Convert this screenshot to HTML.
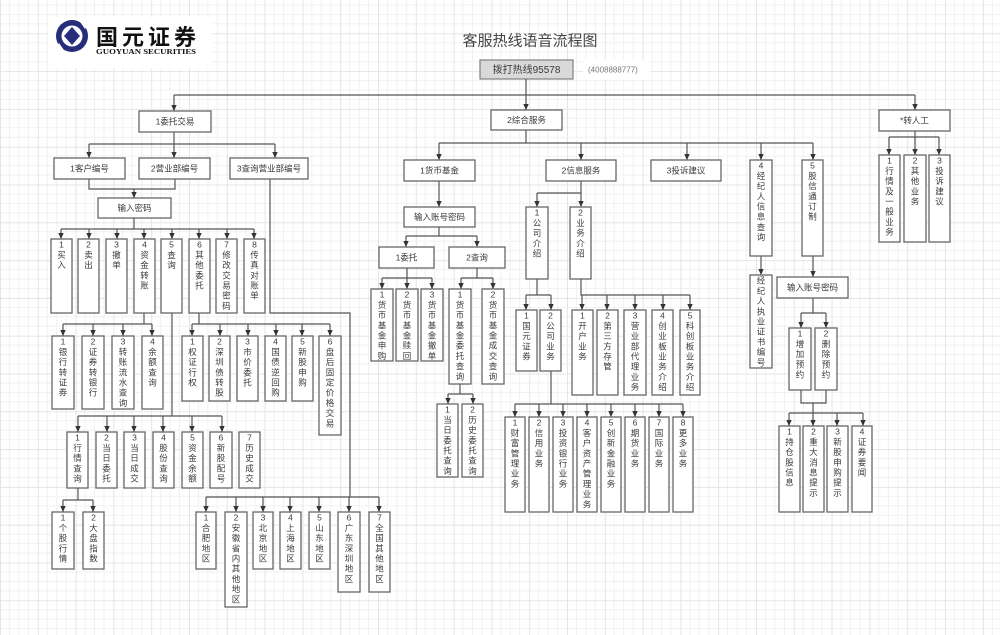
<!DOCTYPE html>
<html>
<head>
<meta charset="utf-8">
<style>
html,body{margin:0;padding:0;background:#fff;}
svg{display:block;}
.b{fill:#fff;stroke:#666;stroke-width:1.3;}
.l{fill:none;stroke:#555;stroke-width:1.2;}
.t{font-family:"Liberation Sans","Noto Sans CJK SC",sans-serif;font-size:8.5px;fill:#3a3a3a;text-anchor:middle;}
</style>
</head>
<body>
<svg width="1000" height="635" viewBox="0 0 1000 635" xmlns="http://www.w3.org/2000/svg">
<defs>
<pattern id="g" width="37.8" height="37.8" patternUnits="userSpaceOnUse" x="0" y="-4.5">
<path d="M9.45,0V37.8M18.9,0V37.8M28.35,0V37.8M0,9.45H37.8M0,18.9H37.8M0,28.35H37.8" stroke="#f1f1f1" stroke-width="1" fill="none"/>
<path d="M0.5,0V37.8M0,0.5H37.8" stroke="#e5e5e5" stroke-width="1" fill="none"/>
</pattern>
<marker id="a" viewBox="0 0 6 6" refX="6" refY="3" markerWidth="6" markerHeight="6" markerUnits="userSpaceOnUse" orient="auto">
<path d="M0,0.3 L6,3 L0,5.7 z" fill="#333"/>
</marker>
</defs>
<rect x="0" y="0" width="1000" height="635" fill="#fff"/>
<rect x="0" y="0" width="1000" height="635" fill="url(#g)"/>

<!-- logo -->
<rect x="49" y="17" width="163" height="51" fill="#fff"/>
<circle cx="72" cy="36" r="16" fill="#272d7a"/>
<circle cx="72" cy="36" r="10.5" fill="#fff"/>
<path d="M72,27 L80,36 L72,45 L64,36 z" fill="#272d7a"/>
<path d="M78,19 L90,21 L85,29 z" fill="#fff"/>
<path d="M66,53 L54,51 L59,43 z" fill="#fff"/>
<text x="96" y="45" font-family="Liberation Sans,'Noto Sans CJK SC',sans-serif" font-size="22" font-weight="bold" fill="#111" textLength="100" lengthAdjust="spacing">国元证券</text>
<text x="96" y="54" font-family="Liberation Serif,serif" font-size="7.5" font-weight="bold" fill="#111" textLength="100" lengthAdjust="spacingAndGlyphs">GUOYUAN SECURITIES</text>

<!-- title -->
<text x="530" y="45.5" font-family="Liberation Sans,'Noto Sans CJK SC',sans-serif" font-size="15" fill="#444" text-anchor="middle">客服热线语音流程图</text>

<!-- hotline -->
<rect x="480" y="60" width="93" height="19" fill="#d9d9d9" stroke="#888" stroke-width="1.3"/>
<text class="t" x="526.5" y="73" style="font-size:10px">拨打热线95578</text>
<rect x="583" y="60" width="67" height="20" fill="#fff"/>
<text x="588" y="72.5" font-family="Liberation Sans,sans-serif" font-size="8" fill="#777">(4008888777)</text>

<!-- connectors -->
<g class="l">
<path d="M526,79V110" marker-end="url(#a)"/>
<path d="M174,95H915"/>
<path d="M174,95V111" marker-end="url(#a)"/>
<path d="M915,95V110" marker-end="url(#a)"/>
<path d="M174,132V144M89,144H275"/>
<path d="M89,144V158" marker-end="url(#a)"/>
<path d="M174,144V158" marker-end="url(#a)"/>
<path d="M275,144V158" marker-end="url(#a)"/>
<path d="M89,179V189H175V179"/>
<path d="M134,189V198" marker-end="url(#a)"/>
<path d="M134,218V229M61,229H254"/>
<path d="M61,229V239" marker-end="url(#a)"/>
<path d="M89,229V239" marker-end="url(#a)"/>
<path d="M117,229V239" marker-end="url(#a)"/>
<path d="M144,229V239" marker-end="url(#a)"/>
<path d="M172,229V239" marker-end="url(#a)"/>
<path d="M199,229V239" marker-end="url(#a)"/>
<path d="M227,229V239" marker-end="url(#a)"/>
<path d="M254,229V239" marker-end="url(#a)"/>
<path d="M144,313V324M63,324H152"/>
<path d="M63,324V336" marker-end="url(#a)"/>
<path d="M93,324V336" marker-end="url(#a)"/>
<path d="M123,324V336" marker-end="url(#a)"/>
<path d="M152,324V336" marker-end="url(#a)"/>
<path d="M172,313V416M78,416H222"/>
<path d="M78,416V432" marker-end="url(#a)"/>
<path d="M107,416V432" marker-end="url(#a)"/>
<path d="M134,416V432" marker-end="url(#a)"/>
<path d="M163,416V432" marker-end="url(#a)"/>
<path d="M192,416V432" marker-end="url(#a)"/>
<path d="M222,416V432" marker-end="url(#a)"/>
<path d="M199,313V324M192,324H330"/>
<path d="M192,324V336" marker-end="url(#a)"/>
<path d="M220,324V336" marker-end="url(#a)"/>
<path d="M248,324V336" marker-end="url(#a)"/>
<path d="M276,324V336" marker-end="url(#a)"/>
<path d="M302,324V336" marker-end="url(#a)"/>
<path d="M330,324V336" marker-end="url(#a)"/>
<path d="M270,179V313H350V497M206,497H379"/>
<path d="M206,497V512" marker-end="url(#a)"/>
<path d="M236,497V512" marker-end="url(#a)"/>
<path d="M263,497V512" marker-end="url(#a)"/>
<path d="M290,497V512" marker-end="url(#a)"/>
<path d="M319,497V512" marker-end="url(#a)"/>
<path d="M349,497V512" marker-end="url(#a)"/>
<path d="M379,497V512" marker-end="url(#a)"/>
<path d="M78,488V500M63,500H93"/>
<path d="M63,500V512" marker-end="url(#a)"/>
<path d="M93,500V512" marker-end="url(#a)"/>

<path d="M526,130V143M439,143H813"/>
<path d="M439,143V160" marker-end="url(#a)"/>
<path d="M581,143V160" marker-end="url(#a)"/>
<path d="M687,143V160" marker-end="url(#a)"/>
<path d="M761,143V160" marker-end="url(#a)"/>
<path d="M813,143V160" marker-end="url(#a)"/>
<path d="M439,181V207" marker-end="url(#a)"/>
<path d="M439,227V236M406,236H477"/>
<path d="M406,236V247" marker-end="url(#a)"/>
<path d="M477,236V247" marker-end="url(#a)"/>
<path d="M407,268V278M382,278H432"/>
<path d="M382,278V289" marker-end="url(#a)"/>
<path d="M407,278V289" marker-end="url(#a)"/>
<path d="M432,278V289" marker-end="url(#a)"/>
<path d="M477,268V278M461,278H493"/>
<path d="M461,278V289" marker-end="url(#a)"/>
<path d="M493,278V289" marker-end="url(#a)"/>
<path d="M460,384V394M448,394H473"/>
<path d="M448,394V404" marker-end="url(#a)"/>
<path d="M473,394V404" marker-end="url(#a)"/>
<path d="M581,181V193H537"/>
<path d="M537,193V207" marker-end="url(#a)"/>
<path d="M581,193V207" marker-end="url(#a)"/>
<path d="M537,279V295M526,295H551"/>
<path d="M526,295V310" marker-end="url(#a)"/>
<path d="M551,295V310" marker-end="url(#a)"/>
<path d="M581,279V295H690"/>
<path d="M582,295V310" marker-end="url(#a)"/>
<path d="M607,295V310" marker-end="url(#a)"/>
<path d="M635,295V310" marker-end="url(#a)"/>
<path d="M663,295V310" marker-end="url(#a)"/>
<path d="M690,295V310" marker-end="url(#a)"/>
<path d="M551,371V404M515,404H683"/>
<path d="M515,404V417" marker-end="url(#a)"/>
<path d="M539,404V417" marker-end="url(#a)"/>
<path d="M563,404V417" marker-end="url(#a)"/>
<path d="M587,404V417" marker-end="url(#a)"/>
<path d="M611,404V417" marker-end="url(#a)"/>
<path d="M635,404V417" marker-end="url(#a)"/>
<path d="M659,404V417" marker-end="url(#a)"/>
<path d="M683,404V417" marker-end="url(#a)"/>

<path d="M915,131V137M889,137H939"/>
<path d="M889,137V155" marker-end="url(#a)"/>
<path d="M915,137V155" marker-end="url(#a)"/>
<path d="M939,137V155" marker-end="url(#a)"/>
<path d="M761,256V275" marker-end="url(#a)"/>
<path d="M813,256V277" marker-end="url(#a)"/>
<path d="M813,298V313M801,313H826"/>
<path d="M801,313V328" marker-end="url(#a)"/>
<path d="M826,313V328" marker-end="url(#a)"/>
<path d="M801,390V403H826V390"/>
<path d="M813,403V426" marker-end="url(#a)"/>
<path d="M789,413H863"/>
<path d="M789,413V426" marker-end="url(#a)"/>
<path d="M837,413V426" marker-end="url(#a)"/>
<path d="M863,413V426" marker-end="url(#a)"/>
</g>

<!-- horizontal boxes -->
<rect class="b" x="139" y="111" width="72" height="21"/><text class="t" x="175" y="124.5">1委托交易</text>
<rect class="b" x="491" y="110" width="71" height="20"/><text class="t" x="526.5" y="123">2综合服务</text>
<rect class="b" x="879" y="110" width="71" height="21"/><text class="t" x="914.5" y="123.5">*转人工</text>
<rect class="b" x="54" y="158" width="71" height="21"/><text class="t" x="89.5" y="171.5">1客户编号</text>
<rect class="b" x="139" y="158" width="71" height="21"/><text class="t" x="174.5" y="171.5">2营业部编号</text>
<rect class="b" x="230" y="158" width="78" height="21"/><text class="t" x="269" y="171.5">3查询营业部编号</text>
<rect class="b" x="98" y="198" width="73" height="20"/><text class="t" x="134.5" y="211">输入密码</text>
<rect class="b" x="404" y="160" width="71" height="21"/><text class="t" x="439.5" y="173.5">1货币基金</text>
<rect class="b" x="546" y="160" width="70" height="21"/><text class="t" x="581" y="173.5">2信息服务</text>
<rect class="b" x="651" y="160" width="70" height="21"/><text class="t" x="686" y="173.5">3投诉建议</text>
<rect class="b" x="404" y="207" width="71" height="20"/><text class="t" x="439.5" y="220">输入账号密码</text>
<rect class="b" x="379" y="247" width="55" height="21"/><text class="t" x="406.5" y="260.5">1委托</text>
<rect class="b" x="449" y="247" width="56" height="21"/><text class="t" x="477" y="260.5">2查询</text>
<rect class="b" x="777" y="277" width="71" height="21"/><text class="t" x="812.5" y="290.5">输入账号密码</text>

<!-- Row A -->
<rect class="b" x="51" y="239" width="21" height="74"/>
<text class="t" x="61.5" y="247.7"><tspan x="61.5">1</tspan><tspan x="61.5" dy="10.2">买</tspan><tspan x="61.5" dy="10.2">入</tspan></text>
<rect class="b" x="78" y="239" width="21" height="74"/>
<text class="t" x="88.5" y="247.7"><tspan x="88.5">2</tspan><tspan x="88.5" dy="10.2">卖</tspan><tspan x="88.5" dy="10.2">出</tspan></text>
<rect class="b" x="106" y="239" width="21" height="74"/>
<text class="t" x="116.5" y="247.7"><tspan x="116.5">3</tspan><tspan x="116.5" dy="10.2">撤</tspan><tspan x="116.5" dy="10.2">单</tspan></text>
<rect class="b" x="134" y="239" width="21" height="74"/>
<text class="t" x="144.5" y="247.7"><tspan x="144.5">4</tspan><tspan x="144.5" dy="10.2">资</tspan><tspan x="144.5" dy="10.2">金</tspan><tspan x="144.5" dy="10.2">转</tspan><tspan x="144.5" dy="10.2">账</tspan></text>
<rect class="b" x="161" y="239" width="21" height="74"/>
<text class="t" x="171.5" y="247.7"><tspan x="171.5">5</tspan><tspan x="171.5" dy="10.2">查</tspan><tspan x="171.5" dy="10.2">询</tspan></text>
<rect class="b" x="189" y="239" width="21" height="74"/>
<text class="t" x="199.5" y="247.7"><tspan x="199.5">6</tspan><tspan x="199.5" dy="10.2">其</tspan><tspan x="199.5" dy="10.2">他</tspan><tspan x="199.5" dy="10.2">委</tspan><tspan x="199.5" dy="10.2">托</tspan></text>
<rect class="b" x="216" y="239" width="21" height="74"/>
<text class="t" x="226.5" y="247.7"><tspan x="226.5">7</tspan><tspan x="226.5" dy="10.2">修</tspan><tspan x="226.5" dy="10.2">改</tspan><tspan x="226.5" dy="10.2">交</tspan><tspan x="226.5" dy="10.2">易</tspan><tspan x="226.5" dy="10.2">密</tspan><tspan x="226.5" dy="10.2">码</tspan></text>
<rect class="b" x="244" y="239" width="21" height="74"/>
<text class="t" x="254.5" y="247.7"><tspan x="254.5">8</tspan><tspan x="254.5" dy="10.2">传</tspan><tspan x="254.5" dy="10.2">真</tspan><tspan x="254.5" dy="10.2">对</tspan><tspan x="254.5" dy="10.2">账</tspan><tspan x="254.5" dy="10.2">单</tspan></text>

<!-- Row B -->
<rect class="b" x="52" y="336" width="22" height="73"/>
<text class="t" x="63" y="344.7"><tspan x="63">1</tspan><tspan x="63" dy="10.2">银</tspan><tspan x="63" dy="10.2">行</tspan><tspan x="63" dy="10.2">转</tspan><tspan x="63" dy="10.2">证</tspan><tspan x="63" dy="10.2">券</tspan></text>
<rect class="b" x="82" y="336" width="22" height="73"/>
<text class="t" x="93" y="344.7"><tspan x="93">2</tspan><tspan x="93" dy="10.2">证</tspan><tspan x="93" dy="10.2">券</tspan><tspan x="93" dy="10.2">转</tspan><tspan x="93" dy="10.2">银</tspan><tspan x="93" dy="10.2">行</tspan></text>
<rect class="b" x="112" y="336" width="22" height="73"/>
<text class="t" x="123" y="344.7"><tspan x="123">3</tspan><tspan x="123" dy="10.2">转</tspan><tspan x="123" dy="10.2">账</tspan><tspan x="123" dy="10.2">流</tspan><tspan x="123" dy="10.2">水</tspan><tspan x="123" dy="10.2">查</tspan><tspan x="123" dy="10.2">询</tspan></text>
<rect class="b" x="142" y="336" width="21" height="73"/>
<text class="t" x="152.5" y="344.7"><tspan x="152.5">4</tspan><tspan x="152.5" dy="10.2">余</tspan><tspan x="152.5" dy="10.2">额</tspan><tspan x="152.5" dy="10.2">查</tspan><tspan x="152.5" dy="10.2">询</tspan></text>

<!-- Row C -->
<rect class="b" x="182" y="336" width="21" height="65"/>
<text class="t" x="192.5" y="344.7"><tspan x="192.5">1</tspan><tspan x="192.5" dy="10.2">权</tspan><tspan x="192.5" dy="10.2">证</tspan><tspan x="192.5" dy="10.2">行</tspan><tspan x="192.5" dy="10.2">权</tspan></text>
<rect class="b" x="209" y="336" width="21" height="65"/>
<text class="t" x="219.5" y="344.7"><tspan x="219.5">2</tspan><tspan x="219.5" dy="10.2">深</tspan><tspan x="219.5" dy="10.2">圳</tspan><tspan x="219.5" dy="10.2">债</tspan><tspan x="219.5" dy="10.2">转</tspan><tspan x="219.5" dy="10.2">股</tspan></text>
<rect class="b" x="237" y="336" width="21" height="65"/>
<text class="t" x="247.5" y="344.7"><tspan x="247.5">3</tspan><tspan x="247.5" dy="10.2">市</tspan><tspan x="247.5" dy="10.2">价</tspan><tspan x="247.5" dy="10.2">委</tspan><tspan x="247.5" dy="10.2">托</tspan></text>
<rect class="b" x="265" y="336" width="21" height="65"/>
<text class="t" x="275.5" y="344.7"><tspan x="275.5">4</tspan><tspan x="275.5" dy="10.2">国</tspan><tspan x="275.5" dy="10.2">债</tspan><tspan x="275.5" dy="10.2">逆</tspan><tspan x="275.5" dy="10.2">回</tspan><tspan x="275.5" dy="10.2">购</tspan></text>
<rect class="b" x="292" y="336" width="21" height="65"/>
<text class="t" x="302.5" y="344.7"><tspan x="302.5">5</tspan><tspan x="302.5" dy="10.2">新</tspan><tspan x="302.5" dy="10.2">股</tspan><tspan x="302.5" dy="10.2">申</tspan><tspan x="302.5" dy="10.2">购</tspan></text>
<rect class="b" x="319" y="336" width="22" height="99"/>
<text class="t" x="330" y="344.7"><tspan x="330">6</tspan><tspan x="330" dy="10.2">盘</tspan><tspan x="330" dy="10.2">后</tspan><tspan x="330" dy="10.2">固</tspan><tspan x="330" dy="10.2">定</tspan><tspan x="330" dy="10.2">价</tspan><tspan x="330" dy="10.2">格</tspan><tspan x="330" dy="10.2">交</tspan><tspan x="330" dy="10.2">易</tspan></text>

<!-- Row D -->
<rect class="b" x="67" y="432" width="21" height="56"/>
<text class="t" x="77.5" y="440.7"><tspan x="77.5">1</tspan><tspan x="77.5" dy="10.2">行</tspan><tspan x="77.5" dy="10.2">情</tspan><tspan x="77.5" dy="10.2">查</tspan><tspan x="77.5" dy="10.2">询</tspan></text>
<rect class="b" x="96" y="432" width="21" height="56"/>
<text class="t" x="106.5" y="440.7"><tspan x="106.5">2</tspan><tspan x="106.5" dy="10.2">当</tspan><tspan x="106.5" dy="10.2">日</tspan><tspan x="106.5" dy="10.2">委</tspan><tspan x="106.5" dy="10.2">托</tspan></text>
<rect class="b" x="124" y="432" width="21" height="56"/>
<text class="t" x="134.5" y="440.7"><tspan x="134.5">3</tspan><tspan x="134.5" dy="10.2">当</tspan><tspan x="134.5" dy="10.2">日</tspan><tspan x="134.5" dy="10.2">成</tspan><tspan x="134.5" dy="10.2">交</tspan></text>
<rect class="b" x="153" y="432" width="21" height="56"/>
<text class="t" x="163.5" y="440.7"><tspan x="163.5">4</tspan><tspan x="163.5" dy="10.2">股</tspan><tspan x="163.5" dy="10.2">份</tspan><tspan x="163.5" dy="10.2">查</tspan><tspan x="163.5" dy="10.2">询</tspan></text>
<rect class="b" x="182" y="432" width="21" height="56"/>
<text class="t" x="192.5" y="440.7"><tspan x="192.5">5</tspan><tspan x="192.5" dy="10.2">资</tspan><tspan x="192.5" dy="10.2">金</tspan><tspan x="192.5" dy="10.2">余</tspan><tspan x="192.5" dy="10.2">额</tspan></text>
<rect class="b" x="210" y="432" width="22" height="56"/>
<text class="t" x="221" y="440.7"><tspan x="221">6</tspan><tspan x="221" dy="10.2">新</tspan><tspan x="221" dy="10.2">股</tspan><tspan x="221" dy="10.2">配</tspan><tspan x="221" dy="10.2">号</tspan></text>
<rect class="b" x="239" y="432" width="21" height="56"/>
<text class="t" x="249.5" y="440.7"><tspan x="249.5">7</tspan><tspan x="249.5" dy="10.2">历</tspan><tspan x="249.5" dy="10.2">史</tspan><tspan x="249.5" dy="10.2">成</tspan><tspan x="249.5" dy="10.2">交</tspan></text>

<!-- Row E -->
<rect class="b" x="52" y="512" width="22" height="57"/>
<text class="t" x="63" y="520.7"><tspan x="63">1</tspan><tspan x="63" dy="10.2">个</tspan><tspan x="63" dy="10.2">股</tspan><tspan x="63" dy="10.2">行</tspan><tspan x="63" dy="10.2">情</tspan></text>
<rect class="b" x="83" y="512" width="21" height="57"/>
<text class="t" x="93.5" y="520.7"><tspan x="93.5">2</tspan><tspan x="93.5" dy="10.2">大</tspan><tspan x="93.5" dy="10.2">盘</tspan><tspan x="93.5" dy="10.2">指</tspan><tspan x="93.5" dy="10.2">数</tspan></text>

<!-- Row F regions -->
<rect class="b" x="196" y="512" width="20" height="57"/>
<text class="t" x="206" y="520.7"><tspan x="206">1</tspan><tspan x="206" dy="10.2">合</tspan><tspan x="206" dy="10.2">肥</tspan><tspan x="206" dy="10.2">地</tspan><tspan x="206" dy="10.2">区</tspan></text>
<rect class="b" x="225" y="512" width="22" height="95"/>
<text class="t" x="236" y="520.7"><tspan x="236">2</tspan><tspan x="236" dy="10.2">安</tspan><tspan x="236" dy="10.2">徽</tspan><tspan x="236" dy="10.2">省</tspan><tspan x="236" dy="10.2">内</tspan><tspan x="236" dy="10.2">其</tspan><tspan x="236" dy="10.2">他</tspan><tspan x="236" dy="10.2">地</tspan><tspan x="236" dy="10.2">区</tspan></text>
<rect class="b" x="253" y="512" width="20" height="57"/>
<text class="t" x="263" y="520.7"><tspan x="263">3</tspan><tspan x="263" dy="10.2">北</tspan><tspan x="263" dy="10.2">京</tspan><tspan x="263" dy="10.2">地</tspan><tspan x="263" dy="10.2">区</tspan></text>
<rect class="b" x="280" y="512" width="21" height="57"/>
<text class="t" x="290.5" y="520.7"><tspan x="290.5">4</tspan><tspan x="290.5" dy="10.2">上</tspan><tspan x="290.5" dy="10.2">海</tspan><tspan x="290.5" dy="10.2">地</tspan><tspan x="290.5" dy="10.2">区</tspan></text>
<rect class="b" x="309" y="512" width="21" height="57"/>
<text class="t" x="319.5" y="520.7"><tspan x="319.5">5</tspan><tspan x="319.5" dy="10.2">山</tspan><tspan x="319.5" dy="10.2">东</tspan><tspan x="319.5" dy="10.2">地</tspan><tspan x="319.5" dy="10.2">区</tspan></text>
<rect class="b" x="338" y="512" width="22" height="80"/>
<text class="t" x="349" y="520.7"><tspan x="349">6</tspan><tspan x="349" dy="10.2">广</tspan><tspan x="349" dy="10.2">东</tspan><tspan x="349" dy="10.2">深</tspan><tspan x="349" dy="10.2">圳</tspan><tspan x="349" dy="10.2">地</tspan><tspan x="349" dy="10.2">区</tspan></text>
<rect class="b" x="369" y="512" width="21" height="80"/>
<text class="t" x="379.5" y="520.7"><tspan x="379.5">7</tspan><tspan x="379.5" dy="10.2">全</tspan><tspan x="379.5" dy="10.2">国</tspan><tspan x="379.5" dy="10.2">其</tspan><tspan x="379.5" dy="10.2">他</tspan><tspan x="379.5" dy="10.2">地</tspan><tspan x="379.5" dy="10.2">区</tspan></text>

<!-- Row G money fund -->
<rect class="b" x="371" y="289" width="22" height="72"/>
<text class="t" x="382" y="297.7"><tspan x="382">1</tspan><tspan x="382" dy="10.2">货</tspan><tspan x="382" dy="10.2">币</tspan><tspan x="382" dy="10.2">基</tspan><tspan x="382" dy="10.2">金</tspan><tspan x="382" dy="10.2">申</tspan><tspan x="382" dy="10.2">购</tspan></text>
<rect class="b" x="396" y="289" width="22" height="72"/>
<text class="t" x="407" y="297.7"><tspan x="407">2</tspan><tspan x="407" dy="10.2">货</tspan><tspan x="407" dy="10.2">币</tspan><tspan x="407" dy="10.2">基</tspan><tspan x="407" dy="10.2">金</tspan><tspan x="407" dy="10.2">赎</tspan><tspan x="407" dy="10.2">回</tspan></text>
<rect class="b" x="421" y="289" width="22" height="72"/>
<text class="t" x="432" y="297.7"><tspan x="432">3</tspan><tspan x="432" dy="10.2">货</tspan><tspan x="432" dy="10.2">币</tspan><tspan x="432" dy="10.2">基</tspan><tspan x="432" dy="10.2">金</tspan><tspan x="432" dy="10.2">撤</tspan><tspan x="432" dy="10.2">单</tspan></text>
<rect class="b" x="449" y="289" width="22" height="95"/>
<text class="t" x="460" y="297.7"><tspan x="460">1</tspan><tspan x="460" dy="10.2">货</tspan><tspan x="460" dy="10.2">币</tspan><tspan x="460" dy="10.2">基</tspan><tspan x="460" dy="10.2">金</tspan><tspan x="460" dy="10.2">委</tspan><tspan x="460" dy="10.2">托</tspan><tspan x="460" dy="10.2">查</tspan><tspan x="460" dy="10.2">询</tspan></text>
<rect class="b" x="482" y="289" width="22" height="95"/>
<text class="t" x="493" y="297.7"><tspan x="493">2</tspan><tspan x="493" dy="10.2">货</tspan><tspan x="493" dy="10.2">币</tspan><tspan x="493" dy="10.2">基</tspan><tspan x="493" dy="10.2">金</tspan><tspan x="493" dy="10.2">成</tspan><tspan x="493" dy="10.2">交</tspan><tspan x="493" dy="10.2">查</tspan><tspan x="493" dy="10.2">询</tspan></text>
<rect class="b" x="437" y="404" width="21" height="73"/>
<text class="t" x="447.5" y="412.7"><tspan x="447.5">1</tspan><tspan x="447.5" dy="10.2">当</tspan><tspan x="447.5" dy="10.2">日</tspan><tspan x="447.5" dy="10.2">委</tspan><tspan x="447.5" dy="10.2">托</tspan><tspan x="447.5" dy="10.2">查</tspan><tspan x="447.5" dy="10.2">询</tspan></text>
<rect class="b" x="462" y="404" width="21" height="73"/>
<text class="t" x="472.5" y="412.7"><tspan x="472.5">2</tspan><tspan x="472.5" dy="10.2">历</tspan><tspan x="472.5" dy="10.2">史</tspan><tspan x="472.5" dy="10.2">委</tspan><tspan x="472.5" dy="10.2">托</tspan><tspan x="472.5" dy="10.2">查</tspan><tspan x="472.5" dy="10.2">询</tspan></text>

<!-- info service -->
<rect class="b" x="526" y="207" width="22" height="72"/>
<text class="t" x="537" y="215.7"><tspan x="537">1</tspan><tspan x="537" dy="10.2">公</tspan><tspan x="537" dy="10.2">司</tspan><tspan x="537" dy="10.2">介</tspan><tspan x="537" dy="10.2">绍</tspan></text>
<rect class="b" x="570" y="207" width="21" height="72"/>
<text class="t" x="580.5" y="215.7"><tspan x="580.5">2</tspan><tspan x="580.5" dy="10.2">业</tspan><tspan x="580.5" dy="10.2">务</tspan><tspan x="580.5" dy="10.2">介</tspan><tspan x="580.5" dy="10.2">绍</tspan></text>
<rect class="b" x="516" y="310" width="21" height="61"/>
<text class="t" x="526.5" y="318.7"><tspan x="526.5">1</tspan><tspan x="526.5" dy="10.2">国</tspan><tspan x="526.5" dy="10.2">元</tspan><tspan x="526.5" dy="10.2">证</tspan><tspan x="526.5" dy="10.2">券</tspan></text>
<rect class="b" x="540" y="310" width="21" height="61"/>
<text class="t" x="550.5" y="318.7"><tspan x="550.5">2</tspan><tspan x="550.5" dy="10.2">公</tspan><tspan x="550.5" dy="10.2">司</tspan><tspan x="550.5" dy="10.2">业</tspan><tspan x="550.5" dy="10.2">务</tspan></text>
<rect class="b" x="572" y="310" width="21" height="85"/>
<text class="t" x="582.5" y="318.7"><tspan x="582.5">1</tspan><tspan x="582.5" dy="10.2">开</tspan><tspan x="582.5" dy="10.2">户</tspan><tspan x="582.5" dy="10.2">业</tspan><tspan x="582.5" dy="10.2">务</tspan></text>
<rect class="b" x="597" y="310" width="21" height="85"/>
<text class="t" x="607.5" y="318.7"><tspan x="607.5">2</tspan><tspan x="607.5" dy="10.2">第</tspan><tspan x="607.5" dy="10.2">三</tspan><tspan x="607.5" dy="10.2">方</tspan><tspan x="607.5" dy="10.2">存</tspan><tspan x="607.5" dy="10.2">管</tspan></text>
<rect class="b" x="624" y="310" width="22" height="85"/>
<text class="t" x="635" y="318.7"><tspan x="635">3</tspan><tspan x="635" dy="10.2">营</tspan><tspan x="635" dy="10.2">业</tspan><tspan x="635" dy="10.2">部</tspan><tspan x="635" dy="10.2">代</tspan><tspan x="635" dy="10.2">理</tspan><tspan x="635" dy="10.2">业</tspan><tspan x="635" dy="10.2">务</tspan></text>
<rect class="b" x="652" y="310" width="21" height="85"/>
<text class="t" x="662.5" y="318.7"><tspan x="662.5">4</tspan><tspan x="662.5" dy="10.2">创</tspan><tspan x="662.5" dy="10.2">业</tspan><tspan x="662.5" dy="10.2">板</tspan><tspan x="662.5" dy="10.2">业</tspan><tspan x="662.5" dy="10.2">务</tspan><tspan x="662.5" dy="10.2">介</tspan><tspan x="662.5" dy="10.2">绍</tspan></text>
<rect class="b" x="680" y="310" width="20" height="85"/>
<text class="t" x="690" y="318.7"><tspan x="690">5</tspan><tspan x="690" dy="10.2">科</tspan><tspan x="690" dy="10.2">创</tspan><tspan x="690" dy="10.2">板</tspan><tspan x="690" dy="10.2">业</tspan><tspan x="690" dy="10.2">务</tspan><tspan x="690" dy="10.2">介</tspan><tspan x="690" dy="10.2">绍</tspan></text>

<rect class="b" x="505" y="417" width="20" height="95"/>
<text class="t" x="515" y="425.7"><tspan x="515">1</tspan><tspan x="515" dy="10.2">财</tspan><tspan x="515" dy="10.2">富</tspan><tspan x="515" dy="10.2">管</tspan><tspan x="515" dy="10.2">理</tspan><tspan x="515" dy="10.2">业</tspan><tspan x="515" dy="10.2">务</tspan></text>
<rect class="b" x="529" y="417" width="20" height="95"/>
<text class="t" x="539" y="425.7"><tspan x="539">2</tspan><tspan x="539" dy="10.2">信</tspan><tspan x="539" dy="10.2">用</tspan><tspan x="539" dy="10.2">业</tspan><tspan x="539" dy="10.2">务</tspan></text>
<rect class="b" x="553" y="417" width="20" height="95"/>
<text class="t" x="563" y="425.7"><tspan x="563">3</tspan><tspan x="563" dy="10.2">投</tspan><tspan x="563" dy="10.2">资</tspan><tspan x="563" dy="10.2">银</tspan><tspan x="563" dy="10.2">行</tspan><tspan x="563" dy="10.2">业</tspan><tspan x="563" dy="10.2">务</tspan></text>
<rect class="b" x="577" y="417" width="20" height="95"/>
<text class="t" x="587" y="425.7"><tspan x="587">4</tspan><tspan x="587" dy="10.2">客</tspan><tspan x="587" dy="10.2">户</tspan><tspan x="587" dy="10.2">资</tspan><tspan x="587" dy="10.2">产</tspan><tspan x="587" dy="10.2">管</tspan><tspan x="587" dy="10.2">理</tspan><tspan x="587" dy="10.2">业</tspan><tspan x="587" dy="10.2">务</tspan></text>
<rect class="b" x="601" y="417" width="20" height="95"/>
<text class="t" x="611" y="425.7"><tspan x="611">5</tspan><tspan x="611" dy="10.2">创</tspan><tspan x="611" dy="10.2">新</tspan><tspan x="611" dy="10.2">金</tspan><tspan x="611" dy="10.2">融</tspan><tspan x="611" dy="10.2">业</tspan><tspan x="611" dy="10.2">务</tspan></text>
<rect class="b" x="625" y="417" width="20" height="95"/>
<text class="t" x="635" y="425.7"><tspan x="635">6</tspan><tspan x="635" dy="10.2">期</tspan><tspan x="635" dy="10.2">货</tspan><tspan x="635" dy="10.2">业</tspan><tspan x="635" dy="10.2">务</tspan></text>
<rect class="b" x="649" y="417" width="20" height="95"/>
<text class="t" x="659" y="425.7"><tspan x="659">7</tspan><tspan x="659" dy="10.2">国</tspan><tspan x="659" dy="10.2">际</tspan><tspan x="659" dy="10.2">业</tspan><tspan x="659" dy="10.2">务</tspan></text>
<rect class="b" x="673" y="417" width="20" height="95"/>
<text class="t" x="683" y="425.7"><tspan x="683">8</tspan><tspan x="683" dy="10.2">更</tspan><tspan x="683" dy="10.2">多</tspan><tspan x="683" dy="10.2">业</tspan><tspan x="683" dy="10.2">务</tspan></text>

<!-- broker & stock info -->
<rect class="b" x="750" y="160" width="22" height="96"/>
<text class="t" x="761" y="168.7"><tspan x="761">4</tspan><tspan x="761" dy="10.2">经</tspan><tspan x="761" dy="10.2">纪</tspan><tspan x="761" dy="10.2">人</tspan><tspan x="761" dy="10.2">信</tspan><tspan x="761" dy="10.2">息</tspan><tspan x="761" dy="10.2">查</tspan><tspan x="761" dy="10.2">询</tspan></text>
<rect class="b" x="802" y="160" width="21" height="96"/>
<text class="t" x="812.5" y="168.7"><tspan x="812.5">5</tspan><tspan x="812.5" dy="10.2">股</tspan><tspan x="812.5" dy="10.2">信</tspan><tspan x="812.5" dy="10.2">通</tspan><tspan x="812.5" dy="10.2">订</tspan><tspan x="812.5" dy="10.2">制</tspan></text>
<rect class="b" x="750" y="275" width="22" height="93"/>
<text class="t" x="761" y="283.7"><tspan x="761">经</tspan><tspan x="761" dy="10.2">纪</tspan><tspan x="761" dy="10.2">人</tspan><tspan x="761" dy="10.2">执</tspan><tspan x="761" dy="10.2">业</tspan><tspan x="761" dy="10.2">证</tspan><tspan x="761" dy="10.2">书</tspan><tspan x="761" dy="10.2">编</tspan><tspan x="761" dy="10.2">号</tspan></text>
<rect class="b" x="789" y="328" width="22" height="62"/>
<text class="t" x="800" y="336.7"><tspan x="800">1</tspan><tspan x="800" dy="10.2">增</tspan><tspan x="800" dy="10.2">加</tspan><tspan x="800" dy="10.2">预</tspan><tspan x="800" dy="10.2">约</tspan></text>
<rect class="b" x="815" y="328" width="22" height="62"/>
<text class="t" x="826" y="336.7"><tspan x="826">2</tspan><tspan x="826" dy="10.2">删</tspan><tspan x="826" dy="10.2">除</tspan><tspan x="826" dy="10.2">预</tspan><tspan x="826" dy="10.2">约</tspan></text>
<rect class="b" x="779" y="426" width="21" height="86"/>
<text class="t" x="789.5" y="434.7"><tspan x="789.5">1</tspan><tspan x="789.5" dy="10.2">持</tspan><tspan x="789.5" dy="10.2">仓</tspan><tspan x="789.5" dy="10.2">股</tspan><tspan x="789.5" dy="10.2">信</tspan><tspan x="789.5" dy="10.2">息</tspan></text>
<rect class="b" x="803" y="426" width="21" height="86"/>
<text class="t" x="813.5" y="434.7"><tspan x="813.5">2</tspan><tspan x="813.5" dy="10.2">重</tspan><tspan x="813.5" dy="10.2">大</tspan><tspan x="813.5" dy="10.2">消</tspan><tspan x="813.5" dy="10.2">息</tspan><tspan x="813.5" dy="10.2">提</tspan><tspan x="813.5" dy="10.2">示</tspan></text>
<rect class="b" x="827" y="426" width="21" height="86"/>
<text class="t" x="837.5" y="434.7"><tspan x="837.5">3</tspan><tspan x="837.5" dy="10.2">新</tspan><tspan x="837.5" dy="10.2">股</tspan><tspan x="837.5" dy="10.2">申</tspan><tspan x="837.5" dy="10.2">购</tspan><tspan x="837.5" dy="10.2">提</tspan><tspan x="837.5" dy="10.2">示</tspan></text>
<rect class="b" x="852" y="426" width="20" height="86"/>
<text class="t" x="862" y="434.7"><tspan x="862">4</tspan><tspan x="862" dy="10.2">证</tspan><tspan x="862" dy="10.2">券</tspan><tspan x="862" dy="10.2">要</tspan><tspan x="862" dy="10.2">闻</tspan></text>

<!-- manual service children -->
<rect class="b" x="879" y="155" width="21" height="87"/>
<text class="t" x="889.5" y="163.7"><tspan x="889.5">1</tspan><tspan x="889.5" dy="10.2">行</tspan><tspan x="889.5" dy="10.2">情</tspan><tspan x="889.5" dy="10.2">及</tspan><tspan x="889.5" dy="10.2">一</tspan><tspan x="889.5" dy="10.2">般</tspan><tspan x="889.5" dy="10.2">业</tspan><tspan x="889.5" dy="10.2">务</tspan></text>
<rect class="b" x="904" y="155" width="22" height="87"/>
<text class="t" x="915" y="163.7"><tspan x="915">2</tspan><tspan x="915" dy="10.2">其</tspan><tspan x="915" dy="10.2">他</tspan><tspan x="915" dy="10.2">业</tspan><tspan x="915" dy="10.2">务</tspan></text>
<rect class="b" x="929" y="155" width="21" height="87"/>
<text class="t" x="939.5" y="163.7"><tspan x="939.5">3</tspan><tspan x="939.5" dy="10.2">投</tspan><tspan x="939.5" dy="10.2">诉</tspan><tspan x="939.5" dy="10.2">建</tspan><tspan x="939.5" dy="10.2">议</tspan></text>
</svg>
</body>
</html>
